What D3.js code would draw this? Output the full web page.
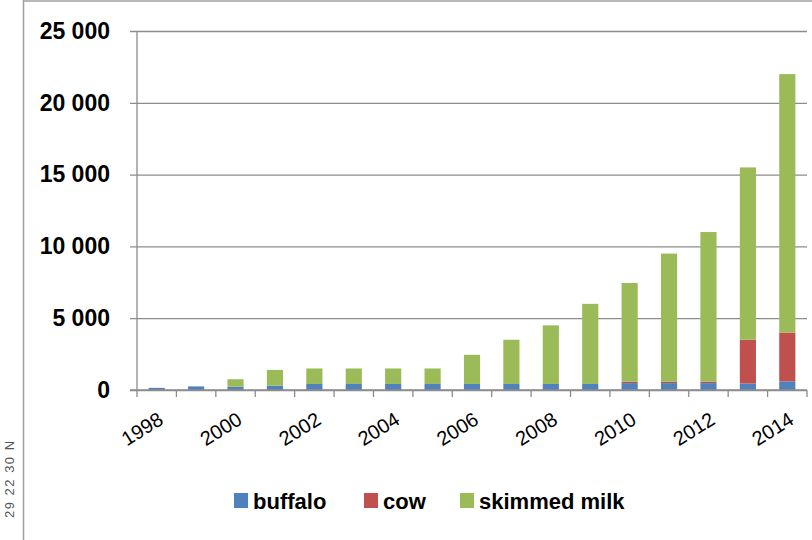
<!DOCTYPE html>
<html>
<head>
<meta charset="utf-8">
<script src="https://cdn.jsdelivr.net/npm/d3@7"></script>
<style>
    body { margin: 0; background: #fff; }
    svg { display: block; font-family: "Liberation Sans", Arial, sans-serif; }
</style>
</head>
<body>
<svg id="chart" width="812" height="540"></svg>
<script>
// data
const years = d3.range(1998, 2015).map(String);
const seriesNames = ['buffalo', 'cow', 'skimmed milk'];
const buffalo = [150, 250, 230, 300, 420, 420, 420, 420, 420, 420, 420, 420, 480, 480, 480, 450, 600];
const cow = [0, 0, 0, 0, 0, 0, 0, 0, 0, 0, 0, 0, 100, 100, 100, 3050, 3400];
const skimmed = [0, 0, 520, 1100, 1080, 1080, 1080, 1080, 2030, 3080, 4080, 5580, 6870, 8920, 10420, 12000, 18000];
const yTicks = [0, 5000, 10000, 15000, 20000, 25000];
const xLabels = years.filter((d, i) => i % 2 === 0);
const colors = ['#4f81bd', '#c0504d', '#9bbb59'];

const MARGIN = {top: 31, right: 5, bottom: 150, left: 137};
const WIDTH = 812, HEIGHT = 540;

const rows = years.map((y, i) => ({year: y, buffalo: buffalo[i], cow: cow[i], 'skimmed milk': skimmed[i]}));
const stacked = d3.stack().keys(seriesNames)(rows);

const svg = d3.select('#chart');

// outer frame
svg.append('line').attr('x1', 23.5).attr('x2', 23.5).attr('y1', 0).attr('y2', HEIGHT)
    .attr('stroke', '#a0a0a0').attr('stroke-width', 1.5);
svg.append('line').attr('x1', 23).attr('x2', WIDTH).attr('y1', 1).attr('y2', 1)
    .attr('stroke', '#a0a0a0').attr('stroke-width', 1.5);

svg.append('text')
    .attr('transform', 'translate(14, 518) rotate(-90)')
    .attr('font-size', 13).attr('fill', '#555')
    .attr('letter-spacing', 1.5)
    .text('29 22 30 N');

const xScale = d3.scaleBand()
    .domain(years)
    .range([MARGIN.left, WIDTH - MARGIN.right])
    .paddingInner(0.59).paddingOuter(0.295);

const yScale = d3.scaleLinear()
    .domain([0, 25000])
    .range([HEIGHT - MARGIN.bottom, MARGIN.top]);

const fmt = d3.formatLocale({decimal: '.', thousands: ' ', grouping: [3], currency: ['', '']}).format(',');

// gridlines + y axis
const yAxis = d3.axisLeft(yScale)
    .tickValues(yTicks)
    .tickFormat(fmt)
    .tickSize(-(WIDTH - MARGIN.right - MARGIN.left) - 7);

const yG = svg.append('g')
    .attr('transform', `translate(${MARGIN.left - 7}, 0)`)
    .call(yAxis);
yG.select('.domain').remove();
yG.selectAll('.tick line').attr('stroke', '#8c8c8c').attr('stroke-width', 1.3);
yG.selectAll('.tick text')
    .attr('x', -20)
    .attr('font-size', 23).attr('font-weight', 'bold').attr('fill', '#000');

// y axis line
svg.append('line')
    .attr('x1', MARGIN.left).attr('x2', MARGIN.left)
    .attr('y1', yScale(25000)).attr('y2', yScale(0))
    .attr('stroke', '#8c8c8c').attr('stroke-width', 1.3);

// bars
svg.append('g').selectAll('g')
    .data(stacked)
    .join('g')
    .attr('fill', (d, i) => colors[i])
    .selectAll('rect')
    .data(d => d)
    .join('rect')
    .attr('x', d => xScale(d.data.year))
    .attr('y', d => yScale(d[1]))
    .attr('width', xScale.bandwidth())
    .attr('height', d => yScale(d[0]) - yScale(d[1]));

// x axis with ticks on category boundaries
const step = xScale.step();
const boundaries = d3.range(years.length + 1).map(i => MARGIN.left + i * step);
const xG = svg.append('g');
xG.append('line')
    .attr('x1', MARGIN.left - 7).attr('x2', WIDTH - MARGIN.right)
    .attr('y1', yScale(0)).attr('y2', yScale(0))
    .attr('stroke', '#8c8c8c').attr('stroke-width', 1.3);
xG.selectAll('line.tk')
    .data(boundaries)
    .join('line')
    .attr('class', 'tk')
    .attr('x1', d => d).attr('x2', d => d)
    .attr('y1', yScale(0)).attr('y2', yScale(0) + 7)
    .attr('stroke', '#8c8c8c').attr('stroke-width', 1.3);

xG.selectAll('text')
    .data(xLabels)
    .join('text')
    .attr('transform', d => `translate(${xScale(d) + xScale.bandwidth() / 2 + 8}, ${yScale(0) + 33}) rotate(-32)`)
    .attr('text-anchor', 'end')
    .attr('font-size', 20)
    .attr('fill', '#000')
    .text(d => d);

// legend
const legendItems = [
    {name: 'buffalo', x: 234},
    {name: 'cow', x: 364},
    {name: 'skimmed milk', x: 460}
];
const legend = svg.append('g').attr('transform', 'translate(0, 493)');
legend.selectAll('rect')
    .data(legendItems)
    .join('rect')
    .attr('x', d => d.x).attr('y', 0)
    .attr('width', 14).attr('height', 15)
    .attr('fill', (d, i) => colors[i]);
legend.selectAll('text')
    .data(legendItems)
    .join('text')
    .attr('x', d => d.x + 19).attr('y', 16)
    .attr('font-size', 22).attr('font-weight', 'bold')
    .attr('fill', '#000')
    .text(d => d.name);
</script>
</body>
</html>
